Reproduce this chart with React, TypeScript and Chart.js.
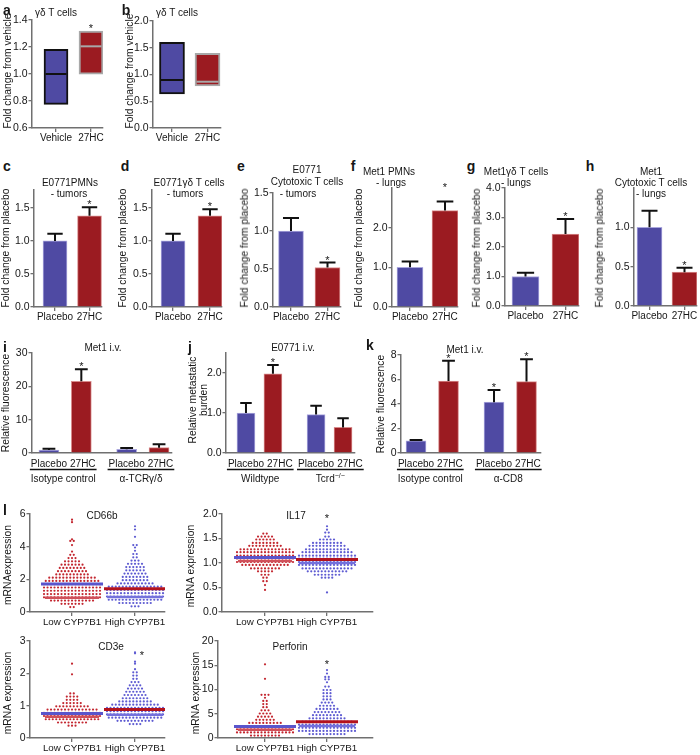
import React, { useEffect, useRef } from 'react';
import { Chart, registerables } from 'chart.js';

Chart.register(...registerables);

const FONT = '"Liberation Sans", Arial, Helvetica, sans-serif';
const TXT = '#161616';
const AX = '#707070';
const BLUE = '#4f4aa3';
const RED = '#9b1b21';
const BLUE_EDGE = '#aaa7dd';
const RED_EDGE = '#d88c8c';
const BOX_EDGES = ['#111111', '#a8a8a8'];
const DOT_RED = '#c3262f';
const DOT_BLUE = '#5e5bd2';
const MEAN_BLUE = '#5955cc';
const MEAN_RED = '#b3121c';
const MED_RED = '#d0505a';
const MED_BLUE = '#7471dc';

// ---------------- data ----------------
// a, b : gamma-delta T cells (floating min-max boxes with median)
const boxCats = ['Vehicle', '27HC'];
const aLow = [0.775, 0.998];
const aHigh = [1.183, 1.318];
const aMed = [1.0, 1.205];
const aStars = [false, true];
const aTicks = [0.6, 0.8, 1.0, 1.2, 1.4];

const bLow = [0.636, 0.785];
const bHigh = [1.6, 1.395];
const bMed = [0.897, 0.865];
const bStars = [false, false];
const bTicks = [0, 0.5, 1.0, 1.5, 2.0];

// c - h : Placebo vs 27HC
const pairCats = ['Placebo', '27HC'];
const pairStars = [false, true];
const cVals = [1.0, 1.38];
const cErr = [0.11, 0.13];
const dVals = [1.0, 1.38];
const dErr = [0.11, 0.1];
const cdTicks = [0, 0.5, 1.0, 1.5];
const eVals = [1.0, 0.52];
const eErr = [0.17, 0.065];
const eTicks = [0, 0.5, 1.0, 1.5];
const fVals = [1.0, 2.43];
const fErr = [0.15, 0.23];
const fStarAt = [null, 2.95];
const fTicks = [0, 1, 2];
const gVals = [1.0, 2.44];
const gErr = [0.13, 0.51];
const gTicks = [0, 1, 2, 3, 4];
const hVals = [1.0, 0.43];
const hErr = [0.21, 0.055];
const hTicks = [0, 0.5, 1.0];

// i, j, k : grouped
const quadCats = ['Placebo', '27HC', 'Placebo', '27HC'];
const iGroups = ['Isotype control', 'α-TCRγ/δ'];
const iVals = [0.9, 21.5, 1.1, 1.6];
const iErr = [0.4, 3.6, 0.4, 1.0];
const iStars = [false, true, false, false];
const iTicks = [0, 10, 20, 30];

const jGroups = ['Wildtype', 'Tcrd'];
const jGroupSup = ['', '−/−'];
const jVals = [1.0, 1.98, 0.96, 0.64];
const jErr = [0.25, 0.22, 0.22, 0.23];
const jStars = [false, true, false, false];
const jTicks = [0, 1, 2];

const kGroups = ['Isotype control', 'α-CD8'];
const kVals = [1.0, 5.87, 4.15, 5.83];
const kErr = [0.06, 1.66, 1.0, 1.82];
const kStars = [false, true, true, true];
const kTicks = [0, 2, 4, 6, 8];

// l : mRNA expression swarms, rows of [value, number of samples]
const swarmCats = ['Low CYP7B1', 'High CYP7B1'];

const cd66bLow: [number, number][] = [[0.3,2],[0.5,7],[0.7,13],[0.9,17],[1.1,17],[1.3,17],[1.5,17],[1.7,17],[1.9,16],[2.1,14],[2.3,10],[2.5,9],[2.7,8],[2.9,7],[3.1,5],[3.3,3],[3.5,2],[3.7,1],[4.1,1],[4.35,2],[4.45,1],[5.5,1],[5.65,1]];
const cd66bHigh: [number, number][] = [[0.35,3],[0.55,10],[0.75,16],[0.95,17],[1.15,17],[1.35,17],[1.55,16],[1.75,11],[1.95,8],[2.15,8],[2.35,7],[2.55,6],[2.75,6],[2.95,5],[3.15,3],[3.35,2],[3.55,2],[3.75,1],[3.95,1],[4.1,2],[4.6,1],[5.05,1],[5.25,1]];
const cd66bMeans = [1.72, 1.42];
const cd66bMedians = [0.88, 0.92];
const cd66bStar = [null, null];
const cd66bTicks = [0, 2, 4, 6];

const il17Low: [number, number][] = [[0.45,1],[0.55,1],[0.63,2],[0.7,2],[0.76,3],[0.83,5],[0.89,9],[0.96,14],[1.02,17],[1.09,17],[1.15,17],[1.22,17],[1.28,15],[1.35,10],[1.41,8],[1.48,6],[1.54,5],[1.6,2]];
const il17High: [number, number][] = [[0.4,1],[0.7,4],[0.76,8],[0.83,12],[0.89,15],[0.96,17],[1.02,17],[1.09,17],[1.15,17],[1.22,15],[1.28,13],[1.35,11],[1.41,9],[1.48,5],[1.54,2],[1.62,2],[1.68,1],[1.75,1]];
const il17Means = [1.11, 1.07];
const il17Medians = [1.04, 1.0];
const il17Star = [null, 1.96];
const il17Ticks = [0, 0.5, 1.0, 1.5, 2.0];

const cd3eLow: [number, number][] = [[0.38,3],[0.48,9],[0.58,16],[0.68,17],[0.78,17],[0.88,15],[0.98,10],[1.08,6],[1.18,4],[1.28,4],[1.38,2],[1.97,1],[2.3,1]];
const cd3eHigh: [number, number][] = [[0.43,4],[0.53,11],[0.63,16],[0.73,17],[0.83,17],[0.93,17],[1.03,14],[1.13,10],[1.23,8],[1.33,7],[1.43,6],[1.53,5],[1.63,4],[1.73,3],[1.83,2],[1.93,2],[2.03,2],[2.13,1],[2.3,1],[2.36,1],[2.62,1],[2.65,1]];
const cd3eMeans = [0.76, 0.88];
const cd3eMedians = [0.66, 0.72];
const cd3eStar = [null, 2.63];
const cd3eTicks = [0, 1, 2, 3];

const perforinLow: [number, number][] = [[0.5,9],[1.15,17],[1.8,17],[2.45,17],[3.1,10],[3.75,6],[4.4,5],[5.05,4],[5.7,3],[6.35,2],[7.0,2],[7.65,2],[8.3,1],[8.9,3],[12.2,1],[15.2,1]];
const perforinHigh: [number, number][] = [[0.8,11],[1.45,17],[2.1,17],[2.75,17],[3.4,15],[4.05,11],[4.7,9],[5.35,8],[6.0,7],[6.65,5],[7.3,4],[7.95,3],[8.6,3],[9.25,3],[9.9,3],[10.6,2],[11.5,1],[12.1,2],[12.6,2],[13.3,1],[14.0,1]];
const perforinMeans = [2.35, 3.35];
const perforinMedians = [1.7, 2.5];
const perforinStar = [null, 15.7];
const perforinTicks = [0, 5, 10, 15, 20];

// ---------------- layout ----------------
type Geo = { L: number; T: number; R: number; B: number; yW: number; top: number; right: number; xH: number };
const geo = (L: number, T: number, R: number, B: number, yW = 28, top = 12, right = 8, xH = 18): Geo => ({ L, T, R, B, yW, top, right, xH });

const G = {
  a: geo(32, 20, 103, 128, 30, 14, 8, 18),
  b: geo(153, 21, 221, 128, 30, 14, 8, 18),
  c: geo(34, 190, 102, 307, 30),
  d: geo(152, 190, 222, 307, 30),
  e: geo(273, 193, 341, 307),
  f: geo(392, 188, 458, 307, 28, 16),
  g: geo(505, 188, 579, 306),
  h: geo(634, 188, 697, 306, 28, 12, 3, 18),
  i: geo(32, 353, 172, 453, 28, 14, 8, 34),
  j: geo(226, 353, 355, 453, 28, 14, 12, 34),
  k: geo(401, 355, 541, 453, 28, 14, 10, 34),
  cd66b: geo(30, 514, 165, 612, 26, 10, 8, 18),
  il17: geo(222, 514, 373, 612, 28, 10, 8, 18),
  cd3e: geo(30, 641, 165, 738, 26, 10, 8, 16),
  perforin: geo(218, 641, 373, 738, 28, 10, 8, 16),
};

const pos2 = [1, 2];
const posIK = [1, 2, 3.4, 4.4];
const posJ = [1, 2, 3.6, 4.6];
const DOT_GAP_PX = 3.5;

// ---------------- chart helpers ----------------
function yAxis(g: Geo, min: number, max: number, ticks: number[], dec: number) {
  return {
    type: 'linear', min, max,
    afterBuildTicks: (s: any) => { s.ticks = ticks.map((v) => ({ value: v })); },
    afterFit: (s: any) => { s.width = g.yW; s.paddingTop = 0; s.paddingBottom = 0; },
    ticks: { autoSkip: false, padding: 1, color: TXT, font: { family: FONT, size: 10.5 }, callback: (v: any) => Number(v).toFixed(dec) },
    grid: { display: true, drawOnChartArea: false, drawTicks: true, tickLength: 3.5, color: AX, lineWidth: 1.3, offset: false },
    border: { display: true, color: AX, width: 1.5 },
  };
}

function xAxis(g: Geo, min: number, max: number, pos: number[], labels: string[], drawTicks: boolean, pad: number, size: number, showLabels = true) {
  return {
    type: 'linear', min, max, offset: false,
    afterBuildTicks: (s: any) => { s.ticks = pos.map((v) => ({ value: v })); },
    afterFit: (s: any) => { s.height = g.xH; s.paddingLeft = 0; s.paddingRight = 0; },
    ticks: { display: showLabels, autoSkip: false, maxRotation: 0, minRotation: 0, padding: pad, color: TXT, font: { family: FONT, size }, callback: (_v: any, i: number) => labels[i] },
    grid: { display: true, drawOnChartArea: false, drawTicks, tickLength: 4, color: AX, lineWidth: 1.3, offset: false },
    border: { display: true, color: AX, width: 1.5 },
  };
}

function baseOptions(g: Geo, x: any, y: any) {
  return {
    responsive: false,
    animation: false,
    devicePixelRatio: 1,
    events: [],
    layout: { autoPadding: false, padding: { left: 0, top: g.top, right: g.right, bottom: 0 } },
    plugins: { legend: { display: false }, tooltip: { enabled: false }, title: { display: false } },
    scales: { x, y },
  };
}

type BarSpec = {
  g: Geo; xmin: number; xmax: number; pos: number[]; cats: string[];
  ymin: number; ymax: number; yTicks: number[]; dec: number;
  vals?: number[]; err?: number[]; lows?: number[]; highs?: number[]; meds?: number[];
  stars: boolean[]; starAt?: (number | null)[]; barW: number; colors: string[]; edges: string[]; edgeW: number;
  xTicks: boolean; groups?: string[]; groupSup?: string[];
};

function barConfig(s: BarSpec) {
  const isBox = !!s.lows;
  const grouped = !!s.groups;
  const data = s.pos.map((x, i) => ({ x, y: isBox ? [s.lows![i], s.highs![i]] : s.vals![i] }));
  const datasets: any[] = [{
    type: 'bar', data, backgroundColor: s.colors, borderColor: s.edges, borderWidth: s.edgeW,
    borderSkipped: isBox ? false : 'start', barThickness: s.barW, order: 2,
  }];
  if (s.meds) {
    datasets.push({
      type: 'line', data: s.pos.map((x, i) => ({ x, y: s.meds![i] })), showLine: false,
      pointStyle: 'line', pointRadius: s.barW / 2 - 1.5, pointBorderColor: s.edges, pointBorderWidth: 2, order: 1,
    });
  }
  const cap = s.barW * 0.32;
  const deco = {
    id: 'deco',
    afterDatasetsDraw(chart: any) {
      const ctx = chart.ctx; const xs = chart.scales.x; const ys = chart.scales.y;
      ctx.save();
      s.pos.forEach((x, i) => {
        const px = xs.getPixelForValue(x);
        let topV = isBox ? s.highs![i] : s.vals![i];
        if (s.err) {
          const y0 = ys.getPixelForValue(s.vals![i]);
          const y1 = ys.getPixelForValue(s.vals![i] + s.err[i]);
          ctx.strokeStyle = '#111'; ctx.lineWidth = 2;
          ctx.beginPath(); ctx.moveTo(px, y0); ctx.lineTo(px, y1);
          ctx.moveTo(px - cap, y1); ctx.lineTo(px + cap, y1); ctx.stroke();
          topV = s.vals![i] + s.err[i];
        }
        if (s.starAt && s.starAt[i] != null) topV = s.starAt[i] as number;
        if (s.stars[i]) {
          ctx.fillStyle = TXT; ctx.font = `11px ${FONT}`; ctx.textAlign = 'center'; ctx.textBaseline = 'alphabetic';
          ctx.fillText('*', px, ys.getPixelForValue(topV) + 1);
        }
      });
      if (grouped) {
        const base = xs.top;
        // category labels, nudged apart when they would touch
        ctx.font = `10px ${FONT}`; ctx.fillStyle = TXT; ctx.textAlign = 'center'; ctx.textBaseline = 'middle';
        const centers: number[] = []; const widths: number[] = [];
        let prevRight = -1e9;
        s.pos.forEach((x, i) => {
          const w = ctx.measureText(s.cats[i]).width;
          let c = xs.getPixelForValue(x);
          if (c - w / 2 < prevRight + 3) c = prevRight + 3 + w / 2;
          centers.push(c); widths.push(w); prevRight = c + w / 2;
          ctx.fillText(s.cats[i], c, base + 11);
        });
        s.groups!.forEach((name, gi) => {
          const i0 = gi * 2; const i1 = gi * 2 + 1;
          const x0 = centers[i0] - widths[i0] / 2 - 1;
          const x1 = centers[i1] + widths[i1] / 2 + 1;
          ctx.strokeStyle = '#111'; ctx.lineWidth = 1.3;
          ctx.beginPath(); ctx.moveTo(x0, base + 16.5); ctx.lineTo(x1, base + 16.5); ctx.stroke();
          const sup = (s.groupSup && s.groupSup[gi]) || '';
          ctx.font = `10px ${FONT}`;
          const w = ctx.measureText(name).width;
          ctx.font = `7px ${FONT}`;
          const ws = sup ? ctx.measureText(sup).width : 0;
          const start = (x0 + x1) / 2 - (w + ws) / 2;
          ctx.textAlign = 'left';
          ctx.font = `10px ${FONT}`; ctx.fillText(name, start, base + 26.5);
          if (sup) { ctx.font = `7px ${FONT}`; ctx.fillText(sup, start + w, base + 23); }
          ctx.textAlign = 'center';
        });
      }
      ctx.restore();
    },
  };
  return {
    type: 'bar',
    data: { datasets },
    options: baseOptions(
      s.g,
      xAxis(s.g, s.xmin, s.xmax, s.pos, s.cats, s.xTicks, 0, 10, !grouped),
      yAxis(s.g, s.ymin, s.ymax, s.yTicks, s.dec),
    ),
    plugins: [deco],
  };
}

type SwarmSpec = {
  g: Geo; xmin: number; xmax: number; ymax: number; yTicks: number[]; dec: number;
  low: [number, number][]; high: [number, number][]; means: number[]; medians: number[];
  star: (number | null)[]; starDx: number;
};

function swarmConfig(s: SwarmSpec) {
  const unit = (s.g.R - s.g.L) / (s.xmax - s.xmin);
  const sp = DOT_GAP_PX / unit;
  const spread = (bins: [number, number][], c: number) =>
    bins.flatMap(([v, n]) => Array.from({ length: n }, (_, k) => ({ x: c + (k - (n - 1) / 2) * sp, y: v })));
  const seg = (c: number, y: number, color: string, w: number, halfPx: number, order: number) => ({
    data: [{ x: c - halfPx / unit, y }, { x: c + halfPx / unit, y }],
    showLine: true, borderColor: color, borderWidth: w, pointRadius: 0, order,
  });
  const datasets = [
    seg(1, s.means[0], MEAN_BLUE, 3, 31, 1),
    seg(2, s.means[1], MEAN_RED, 3, 31, 1),
    seg(1, s.medians[0], MED_RED, 2.5, 27, 2),
    seg(2, s.medians[1], MED_BLUE, 2.5, 28, 2),
    { data: spread(s.low, 1), pointRadius: 1.1, backgroundColor: DOT_RED, borderWidth: 0, order: 3 },
    { data: spread(s.high, 2), pointRadius: 1.1, backgroundColor: DOT_BLUE, borderWidth: 0, order: 3 },
  ];
  const stars = {
    id: 'stars',
    afterDatasetsDraw(chart: any) {
      const ctx = chart.ctx; const xs = chart.scales.x; const ys = chart.scales.y;
      ctx.save();
      ctx.fillStyle = TXT; ctx.font = `11px ${FONT}`; ctx.textAlign = 'center'; ctx.textBaseline = 'alphabetic';
      s.star.forEach((v, i) => {
        if (v == null) return;
        ctx.fillText('*', xs.getPixelForValue(i + 1) + s.starDx, ys.getPixelForValue(v) + 6);
      });
      ctx.restore();
    },
  };
  return {
    type: 'scatter',
    data: { datasets },
    options: baseOptions(
      s.g,
      xAxis(s.g, s.xmin, s.xmax, pos2, swarmCats, true, 0, 9.8),
      yAxis(s.g, 0, s.ymax, s.yTicks, s.dec),
    ),
    plugins: [stars],
  };
}

function ChartCanvas({ g, make }: { g: Geo; make: () => any }) {
  const ref = useRef<HTMLCanvasElement | null>(null);
  const left = g.L - g.yW;
  const top = g.T - g.top;
  const width = g.R + g.right - left;
  const height = g.B + g.xH - top;
  useEffect(() => {
    const chart = new Chart(ref.current as HTMLCanvasElement, make());
    return () => chart.destroy();
  }, []);
  return <canvas ref={ref} width={width} height={height} style={{ position: 'absolute', left, top, width, height }} />;
}

function Txt({ x, y, children, size = 10, bold = false, rot = false, lh = 1 }: any) {
  return (
    <div style={{
      position: 'absolute', left: x, top: y,
      transform: `translate(-50%, -50%)${rot ? ' rotate(-90deg)' : ''}`,
      fontSize: size, fontWeight: bold ? 700 : 400, whiteSpace: 'nowrap', lineHeight: lh, textAlign: 'center',
    }}>{children}</div>
  );
}

const pairColors = [BLUE, RED];
const pairEdges = [BLUE_EDGE, RED_EDGE];
const quadColors = [BLUE, RED, BLUE, RED];
const quadEdges = [BLUE_EDGE, RED_EDGE, BLUE_EDGE, RED_EDGE];

function pair(g: Geo, xmin: number, xmax: number, vals: number[], err: number[], ymax: number, ticks: number[], barW: number, starAt?: (number | null)[]) {
  return () => barConfig({
    g, xmin, xmax, pos: pos2, cats: pairCats, ymin: 0, ymax, yTicks: ticks, dec: 1,
    vals, err, stars: pairStars, starAt, barW, colors: pairColors, edges: pairEdges, edgeW: 1, xTicks: true,
  });
}

export default function App() {
  const YT = 10.3;
  return (
    <div style={{ position: 'absolute', left: 0, top: 0, width: 700, height: 755, background: '#fff', overflow: 'hidden', fontFamily: FONT, color: TXT }}>
      <ChartCanvas g={G.a} make={() => barConfig({
        g: G.a, xmin: 0.314, xmax: 2.343, pos: pos2, cats: boxCats, ymin: 0.6, ymax: 1.4, yTicks: aTicks, dec: 1,
        lows: aLow, highs: aHigh, meds: aMed, stars: aStars, barW: 24, colors: pairColors, edges: BOX_EDGES, edgeW: 2, xTicks: true,
      })} />
      <ChartCanvas g={G.b} make={() => barConfig({
        g: G.b, xmin: 0.465, xmax: 2.38, pos: pos2, cats: boxCats, ymin: 0, ymax: 2.0, yTicks: bTicks, dec: 1,
        lows: bLow, highs: bHigh, meds: bMed, stars: bStars, barW: 25, colors: pairColors, edges: BOX_EDGES, edgeW: 2, xTicks: true,
      })} />
      <ChartCanvas g={G.c} make={pair(G.c, 0.391, 2.362, cVals, cErr, 1.77, cdTicks, 24)} />
      <ChartCanvas g={G.d} make={pair(G.d, 0.432, 2.324, dVals, dErr, 1.77, cdTicks, 24)} />
      <ChartCanvas g={G.e} make={pair(G.e, 0.507, 2.37, eVals, eErr, 1.5, eTicks, 25)} />
      <ChartCanvas g={G.f} make={pair(G.f, 0.486, 2.371, fVals, fErr, 3.0, fTicks, 26, fStarAt)} />
      <ChartCanvas g={G.g} make={pair(G.g, 0.4875, 2.3375, gVals, gErr, 4.0, gTicks, 27)} />
      <ChartCanvas g={G.h} make={pair(G.h, 0.557, 2.357, hVals, hErr, 1.5, hTicks, 25)} />
      <ChartCanvas g={G.i} make={() => barConfig({
        g: G.i, xmin: 0.477, xmax: 4.8, pos: posIK, cats: quadCats, ymin: 0, ymax: 30, yTicks: iTicks, dec: 0,
        vals: iVals, err: iErr, stars: iStars, barW: 20, colors: quadColors, edges: quadEdges, edgeW: 1, xTicks: false, groups: iGroups,
      })} />
      <ChartCanvas g={G.j} make={() => barConfig({
        g: G.j, xmin: 0.259, xmax: 5.044, pos: posJ, cats: quadCats, ymin: 0, ymax: 2.5, yTicks: jTicks, dec: 1,
        vals: jVals, err: jErr, stars: jStars, barW: 18, colors: quadColors, edges: quadEdges, edgeW: 1, xTicks: false, groups: jGroups, groupSup: jGroupSup,
      })} />
      <ChartCanvas g={G.k} make={() => barConfig({
        g: G.k, xmin: 0.538, xmax: 4.846, pos: posIK, cats: quadCats, ymin: 0, ymax: 8, yTicks: kTicks, dec: 0,
        vals: kVals, err: kErr, stars: kStars, barW: 20, colors: quadColors, edges: quadEdges, edgeW: 1, xTicks: false, groups: kGroups,
      })} />
      <ChartCanvas g={G.cd66b} make={() => swarmConfig({
        g: G.cd66b, xmin: 0.333, xmax: 2.476, ymax: 6, yTicks: cd66bTicks, dec: 0,
        low: cd66bLow, high: cd66bHigh, means: cd66bMeans, medians: cd66bMedians, star: cd66bStar, starDx: 0,
      })} />
      <ChartCanvas g={G.il17} make={() => swarmConfig({
        g: G.il17, xmin: 0.306, xmax: 2.742, ymax: 2, yTicks: il17Ticks, dec: 1,
        low: il17Low, high: il17High, means: il17Means, medians: il17Medians, star: il17Star, starDx: 0,
      })} />
      <ChartCanvas g={G.cd3e} make={() => swarmConfig({
        g: G.cd3e, xmin: 0.333, xmax: 2.476, ymax: 3, yTicks: cd3eTicks, dec: 0,
        low: cd3eLow, high: cd3eHigh, means: cd3eMeans, medians: cd3eMedians, star: cd3eStar, starDx: 7,
      })} />
      <ChartCanvas g={G.perforin} make={() => swarmConfig({
        g: G.perforin, xmin: 0.242, xmax: 2.742, ymax: 20, yTicks: perforinTicks, dec: 0,
        low: perforinLow, high: perforinHigh, means: perforinMeans, medians: perforinMedians, star: perforinStar, starDx: 0,
      })} />

      {/* panel letters */}
      <Txt x={7} y={10} size={14} bold>a</Txt>
      <Txt x={126} y={10} size={14} bold>b</Txt>
      <Txt x={7} y={166} size={14} bold>c</Txt>
      <Txt x={125} y={166} size={14} bold>d</Txt>
      <Txt x={241} y={166} size={14} bold>e</Txt>
      <Txt x={353} y={166} size={14} bold>f</Txt>
      <Txt x={471} y={166} size={14} bold>g</Txt>
      <Txt x={590} y={166} size={14} bold>h</Txt>
      <Txt x={5} y={347} size={14} bold>i</Txt>
      <Txt x={190} y={347} size={14} bold>j</Txt>
      <Txt x={370} y={345} size={14} bold>k</Txt>
      <Txt x={5} y={510} size={14} bold>l</Txt>

      {/* titles */}
      <Txt x={56} y={13}>γδ T cells</Txt>
      <Txt x={177} y={13}>γδ T cells</Txt>
      <Txt x={70} y={183}>E0771PMNs</Txt>
      <Txt x={69} y={194}>- tumors</Txt>
      <Txt x={189} y={183}>E0771γδ T cells</Txt>
      <Txt x={185} y={194}>- tumors</Txt>
      <Txt x={307} y={170}>E0771</Txt>
      <Txt x={307} y={182}>Cytotoxic T cells</Txt>
      <Txt x={298} y={194}>- tumors</Txt>
      <Txt x={389} y={172}>Met1 PMNs</Txt>
      <Txt x={391} y={183}>- lungs</Txt>
      <Txt x={516} y={172}>Met1γδ T cells</Txt>
      <Txt x={516} y={183}>- lungs</Txt>
      <Txt x={651} y={172}>Met1</Txt>
      <Txt x={651} y={183}>Cytotoxic T cells</Txt>
      <Txt x={651} y={194}>- lungs</Txt>
      <Txt x={103} y={348}>Met1 i.v.</Txt>
      <Txt x={293} y={348}>E0771 i.v.</Txt>
      <Txt x={465} y={350}>Met1 i.v.</Txt>
      <Txt x={102} y={516}>CD66b</Txt>
      <Txt x={296} y={516}>IL17</Txt>
      <Txt x={111} y={647}>CD3e</Txt>
      <Txt x={290} y={647}>Perforin</Txt>

      {/* y axis titles */}
      <Txt x={8} y={71} size={YT} rot>Fold change from vehicle</Txt>
      <Txt x={130} y={71} size={YT} rot>Fold change from vehicle</Txt>
      <Txt x={6} y={248} size={YT} rot>Fold change from placebo</Txt>
      <Txt x={123} y={248} size={YT} rot>Fold change from placebo</Txt>
      <Txt x={245} y={248} size={YT} rot>Fold change from placebo</Txt>
      <Txt x={359} y={248} size={YT} rot>Fold change from placebo</Txt>
      <Txt x={477} y={248} size={YT} rot>Fold change from placebo</Txt>
      <Txt x={600} y={248} size={YT} rot>Fold change from placebo</Txt>
      <Txt x={6} y={403} size={YT} rot>Relative fluorescence</Txt>
      <Txt x={198} y={400} size={YT} rot lh={1.1}>Relative metastatic<br />burden</Txt>
      <Txt x={381} y={404} size={YT} rot>Relative fluorescence</Txt>
      <Txt x={8} y={565} size={YT} rot>mRNAexpression</Txt>
      <Txt x={191} y={566} size={YT} rot>mRNA expression</Txt>
      <Txt x={8} y={693} size={YT} rot>mRNA expression</Txt>
      <Txt x={196} y={693} size={YT} rot>mRNA expression</Txt>
    </div>
  );
}
